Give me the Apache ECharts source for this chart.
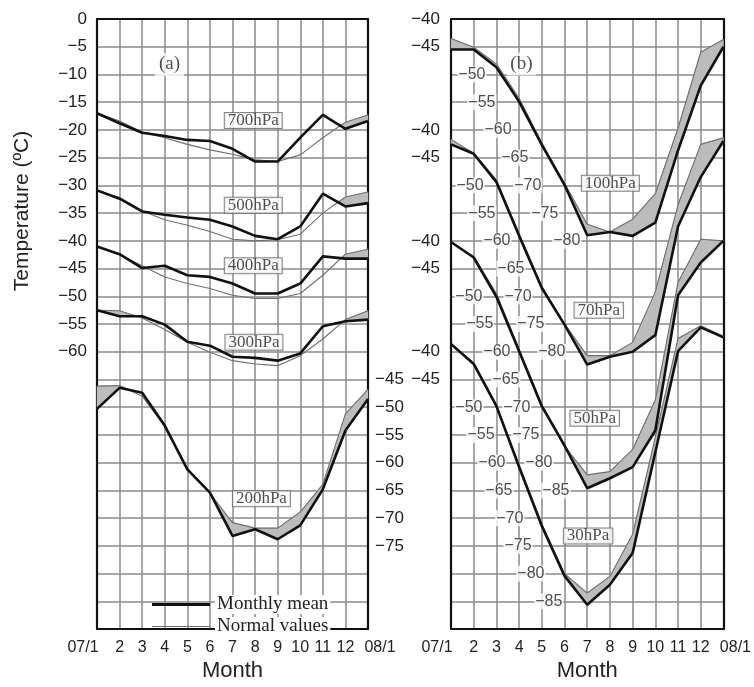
<!DOCTYPE html>
<html><head><meta charset="utf-8">
<script src="https://cdn.jsdelivr.net/npm/echarts@6/dist/echarts.min.js"></script>
<style>html,body{margin:0;padding:0;background:#fff}#c{width:754px;height:687px}</style>
</head><body><div id="c"></div>
<script>
// ---------- data ----------
const months = ['07/1','2','3','4','5','6','7','8','9','10','11','12','08/1'];

// Panel (a)
const mean700 = [-17.0,-18.8,-20.5,-21.1,-21.8,-22.0,-23.4,-25.7,-25.7,-21.4,-17.3,-19.8,-18.4];
const norm700 = [-17.0,-18.4,-20.4,-21.4,-22.6,-23.6,-24.4,-25.4,-25.7,-24.5,-21.4,-18.6,-17.3];
const mean500 = [-30.9,-32.4,-34.7,-35.3,-35.8,-36.2,-37.4,-39.1,-39.7,-37.4,-31.5,-33.8,-33.2];
const norm500 = [-30.9,-32.2,-34.6,-36.2,-37.2,-38.3,-39.7,-40.0,-39.8,-38.8,-35.0,-32.1,-31.2];
const mean400 = [-41.0,-42.4,-44.9,-44.5,-46.2,-46.5,-47.7,-49.5,-49.5,-47.7,-42.8,-43.2,-43.2];
const norm400 = [-41.0,-42.5,-44.5,-46.5,-47.7,-48.6,-49.8,-50.4,-50.4,-49.5,-46.2,-42.4,-41.5];
const mean300 = [-52.5,-53.6,-53.6,-55.1,-58.2,-58.9,-60.9,-61.1,-61.6,-60.3,-55.4,-54.5,-54.2];
const norm300 = [-52.5,-52.6,-53.9,-56.0,-58.3,-60.1,-61.6,-62.2,-62.5,-60.7,-57.7,-54.2,-52.6];
const mean200 = [-50.3,-46.5,-47.4,-53.3,-61.2,-65.4,-73.2,-72.0,-73.8,-71.3,-64.8,-54.2,-48.5];
const norm200 = [-46.2,-46.1,-48.0,-53.5,-61.0,-65.5,-70.8,-71.8,-71.8,-68.9,-63.9,-51.2,-46.8];

// Panel (b)
const mean100 = [-45.5,-45.5,-48.7,-54.9,-62.7,-69.9,-79.0,-78.4,-79.1,-76.7,-63.7,-52.0,-45.0];
const norm100 = [-43.5,-45.1,-48.1,-54.3,-62.3,-69.6,-77.0,-78.4,-76.1,-71.5,-59.7,-46.0,-43.7];
const mean70  = [-42.6,-44.3,-49.4,-59.1,-68.5,-75.1,-82.3,-80.9,-80.0,-77.0,-57.4,-48.5,-42.0];
const norm70  = [-41.7,-44.2,-49.0,-58.7,-68.2,-75.0,-80.7,-80.7,-78.3,-69.2,-53.5,-42.6,-41.4];
const mean50  = [-40.2,-43.0,-50.1,-59.9,-69.8,-76.9,-84.6,-82.8,-80.8,-74.2,-49.8,-43.9,-40.0];
const norm50  = [-40.2,-42.8,-49.5,-59.5,-69.5,-77.0,-82.2,-81.6,-77.6,-68.7,-47.5,-39.7,-40.0];
const mean30  = [-38.6,-42.2,-49.8,-60.8,-71.4,-80.4,-85.6,-82.0,-76.3,-58.1,-39.9,-35.6,-37.4];
const norm30  = [-38.6,-42.0,-49.5,-60.3,-71.0,-80.0,-83.5,-80.5,-72.9,-55.4,-37.6,-35.3,-37.2];

// tick labels
const leftTicksA  = [0,-5,-10,-15,-20,-25,-30,-35,-40,-45,-50,-55,-60];
const rightTicks200 = [-45,-50,-55,-60,-65,-70,-75];
const outerTicksB = [-40,-45];
const innerTicks100 = [-50,-55,-60,-65,-70,-75,-80];
const innerTicks70  = [-50,-55,-60,-65,-70,-75,-80];
const innerTicks50  = [-50,-55,-60,-65,-70,-75,-80,-85];
const innerTicks30  = [-50,-55,-60,-65,-70,-75,-80,-85];

// ---------- layout (positions of in-plot scale labels, along month axis) ----------
const innerX100 = [0.92,1.36,2.07,2.81,3.38,4.13,5.10];
const innerX70  = [0.84,1.36,2.02,2.64,2.95,3.52,4.44];
const innerX50  = [0.79,1.27,2.02,2.42,2.90,3.30,3.87,4.62];
const innerX30  = [0.79,1.32,1.80,2.11,2.59,2.95,3.52,4.31];

// vertical offsets of each level's scale on the shared plotting axis
const OFF = {p700:0,p500:0,p400:0,p300:0,p200:-20,p100:0,p70:-20,p50:-40,p30:-60};

const MINUS = '\u2212';
const fmt = v => v === 0 ? '0' : (v < 0 ? MINUS + Math.abs(v) : String(v));

const levels = [
  {mean:mean700, norm:norm700, off:OFF.p700, g:0},
  {mean:mean500, norm:norm500, off:OFF.p500, g:0},
  {mean:mean400, norm:norm400, off:OFF.p400, g:0},
  {mean:mean300, norm:norm300, off:OFF.p300, g:0},
  {mean:mean200, norm:norm200, off:OFF.p200, g:0},
  {mean:mean100, norm:norm100, off:OFF.p100, g:1},
  {mean:mean70,  norm:norm70,  off:OFF.p70,  g:1},
  {mean:mean50,  norm:norm50,  off:OFF.p50,  g:1},
  {mean:mean30,  norm:norm30,  off:OFF.p30,  g:1}
];

const SHADE = '#bcbcbc';
function shadeSeries(mean, norm, off, g) {
  const data = [];
  for (let i = 0; i < mean.length - 1; i++) {
    data.push([i, mean[i]+off, norm[i]+off, mean[i+1]+off, norm[i+1]+off]);
  }
  return {
    type:'custom', xAxisIndex:g, yAxisIndex:g===0?0:2, z:2, silent:true, animation:false,
    encode:{x:0, y:[1,2]}, data,
    renderItem(params, api) {
      const i = api.value(0), m0 = api.value(1), n0 = api.value(2), m1 = api.value(3), n1 = api.value(4);
      const a = n0 - m0, b = n1 - m1;
      let pts = null;
      if (a <= 0 && b <= 0) return {type:'group', children:[]};
      if (a >= 0 && b >= 0) pts = [[i,n0],[i+1,n1],[i+1,m1],[i,m0]];
      else {
        const t = a/(a-b), px = i+t, py = m0 + t*(m1-m0);
        pts = a > 0 ? [[i,n0],[px,py],[i,m0]] : [[px,py],[i+1,n1],[i+1,m1]];
      }
      return {type:'polygon', shape:{points: pts.map(p => api.coord(p))}, style:{fill:SHADE, stroke:SHADE, lineWidth:0.5}};
    }
  };
}

const series = [];
// in-plot scale labels for panel (b)
function innerLabels(ticks, xs, off) {
  return ticks.map((v,k) => [xs[k], v+off, fmt(v)]);
}
series.push({
  type:'scatter', xAxisIndex:1, yAxisIndex:2, z:1, silent:true, symbolSize:1,
  itemStyle:{color:'rgba(0,0,0,0)'},
  data: [].concat(
    innerLabels(innerTicks100, innerX100, OFF.p100),
    innerLabels(innerTicks70, innerX70, OFF.p70),
    innerLabels(innerTicks50, innerX50, OFF.p50),
    innerLabels(innerTicks30, innerX30, OFF.p30)),
  label:{show:true, position:'inside', formatter:p => p.data[2],
    fontFamily:'Liberation Sans', fontSize:16, color:'#222', backgroundColor:'#fff', padding:[0,1]}
});

levels.forEach(L => {
  const yi = L.g === 0 ? 0 : 2;
  series.push(shadeSeries(L.mean, L.norm, L.off, L.g));
  series.push({type:'line', name:'Normal values', xAxisIndex:L.g, yAxisIndex:yi, z:3, silent:true,
    symbol:'none', data:L.norm.map((v,i)=>[i, v+L.off]),
    itemStyle:{color:'#6e6e6e'}, lineStyle:{color:'#6e6e6e', width:1.1}});
  series.push({type:'line', name:'Monthly mean', xAxisIndex:L.g, yAxisIndex:yi, z:4, silent:true,
    symbol:'none', data:L.mean.map((v,i)=>[i, v+L.off]),
    itemStyle:{color:'#111'}, lineStyle:{color:'#111', width:2.6}});
});

// level name boxes
const boxStyle = {show:true, position:'inside', formatter:p => p.data[2],
  fontFamily:'Liberation Serif', fontSize:17, color:'#222', backgroundColor:'#fff',
  borderColor:'#666', borderWidth:1, padding:[1,3,0,3], lineHeight:14};
series.push({type:'scatter', xAxisIndex:0, yAxisIndex:0, z:5, silent:true, symbolSize:1,
  itemStyle:{color:'rgba(0,0,0,0)'}, label:boxStyle,
  data:[[6.92,-18.3,'700hPa'],[6.92,-33.6,'500hPa'],[6.92,-44.5,'400hPa'],[6.95,-58.3,'300hPa'],[7.28,-86.5,'200hPa']]});
series.push({type:'scatter', xAxisIndex:1, yAxisIndex:2, z:5, silent:true, symbolSize:1,
  itemStyle:{color:'rgba(0,0,0,0)'}, label:boxStyle,
  data:[[7.02,-69.6,'100hPa'],[6.51,-92.5,'70hPa'],[6.33,-112.0,'50hPa'],[6.04,-133.2,'30hPa']]});
const panelStyle = {show:true, position:'inside', formatter:p => p.data[2],
  fontFamily:'Liberation Serif', fontSize:19, color:'#222', backgroundColor:'#fff', padding:[2,4]};
series.push({type:'scatter', xAxisIndex:0, yAxisIndex:0, z:5, silent:true, symbolSize:1,
  itemStyle:{color:'rgba(0,0,0,0)'}, label:panelStyle, data:[[3.21,-8.2,'(a)']]});
series.push({type:'scatter', xAxisIndex:1, yAxisIndex:2, z:5, silent:true, symbolSize:1,
  itemStyle:{color:'rgba(0,0,0,0)'}, label:panelStyle, data:[[3.10,-48.1,'(b)']]});

const gridLine = {show:true, lineStyle:{color:'#8a8a8a', width:1.5}};
const frame = {show:true, onZero:false, lineStyle:{color:'#111', width:2.2}};
const tickFont = {fontFamily:'Liberation Sans', fontSize:17, color:'#222'};

function xAxisMain(g) {
  return {gridIndex:g, type:'value', min:0, max:12, interval:1,
    axisLine:frame, axisTick:{show:false}, splitLine:gridLine,
    axisLabel:{fontFamily:'Liberation Sans', fontSize:16, color:'#222', margin:10,
      formatter:v => v===0 ? '{f|'+months[0]+'}' : (v===12 ? '{l|'+months[12]+'}' : months[v]),
      rich:{f:{padding:[0,28,0,0], fontFamily:'Liberation Sans', fontSize:16, color:'#222'},
            l:{padding:[0,0,0,24], fontFamily:'Liberation Sans', fontSize:16, color:'#222'}}},
    name:'Month', nameLocation:'middle', nameGap:28,
    nameTextStyle:{fontFamily:'Liberation Sans', fontSize:22, color:'#222'}};
}
function xAxisTop(g) {
  return {gridIndex:g, type:'value', min:0, max:12, interval:1, position:'top',
    axisLine:frame, axisTick:{show:false}, axisLabel:{show:false}, splitLine:{show:false}};
}

const option = {
  animation:false,
  backgroundColor:'#fff',
  grid:[{left:97, top:19, width:271, height:621}, {left:451, top:19, width:273, height:621}],
  xAxis:[xAxisMain(0), xAxisMain(1), xAxisTop(0), xAxisTop(1)],
  yAxis:[
    {gridIndex:0, type:'value', min:-110, max:0, interval:5, axisLine:frame, axisTick:{show:false},
     splitLine:gridLine,
     axisLabel:Object.assign({margin:10, formatter:v => leftTicksA.indexOf(v) >= 0 ? fmt(v) : ''}, tickFont)},
    {gridIndex:0, type:'value', min:-110, max:0, interval:5, position:'right', axisLine:frame,
     axisTick:{show:false}, splitLine:{show:false},
     axisLabel:Object.assign({margin:7, formatter:u => {const v = u - OFF.p200; return rightTicks200.indexOf(v) >= 0 ? fmt(v) : '';}}, tickFont)},
    {gridIndex:1, type:'value', min:-150, max:-40, interval:5, axisLine:frame, axisTick:{show:false},
     splitLine:gridLine,
     axisLabel:Object.assign({margin:11, formatter:u => {
       for (const off of [OFF.p100, OFF.p70, OFF.p50, OFF.p30]) {
         const v = u - off; if (outerTicksB.indexOf(v) >= 0) return fmt(v);
       }
       return '';}}, tickFont)},
    {gridIndex:1, type:'value', min:-150, max:-40, interval:5, position:'right', axisLine:frame,
     axisTick:{show:false}, splitLine:{show:false}, axisLabel:{show:false}}
  ],
  legend:[
    {data:['Monthly mean'], left:147, top:590, itemWidth:58, itemHeight:3, icon:'rect', selectedMode:false,
     textStyle:{fontFamily:'Liberation Serif', fontSize:19, color:'#222', backgroundColor:'#fff', padding:[0,2,0,2]}},
    {data:['Normal values'], left:147, top:612, itemWidth:58, itemHeight:1, icon:'rect', selectedMode:false,
     textStyle:{fontFamily:'Liberation Serif', fontSize:19, color:'#222', backgroundColor:'#fff', padding:[0,2,0,2]}}
  ],
  graphic:[{type:'text', x:22, y:211, rotation:Math.PI/2, z:10,
    style:{text:'Temperature (ºC)', font:'21px "Liberation Sans"', fill:'#222', textAlign:'center', textVerticalAlign:'middle'}}],
  series
};
const chart = echarts.init(document.getElementById('c'), null, {renderer:'canvas'});
chart.setOption(option);
</script></body></html>
